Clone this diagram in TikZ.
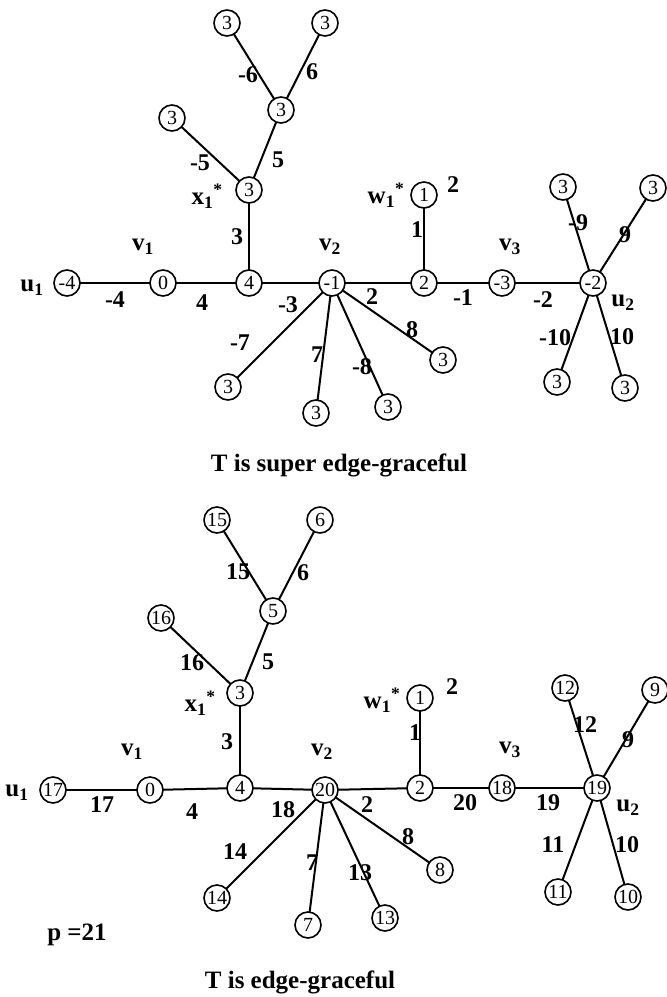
\documentclass[tikz,border=0pt]{standalone}
\usepackage{fontspec}
\setmainfont{Liberation Serif}

\tikzset{
    vtx/.style={draw, circle, line width=1.6pt, minimum size=26pt, inner sep=0pt,
        font=\fontsize{20}{20}\selectfont, fill=white},
    elab/.style={inner sep=0pt, font=\bfseries\fontsize{24}{24}\selectfont},
    vname/.style={inner sep=0pt, font=\bfseries\fontsize{25}{25}\selectfont},
    caption/.style={inner sep=0pt, font=\bfseries\fontsize{25}{25}\selectfont},
    edge/.style={line width=2pt}
}

\begin{document}
\begin{tikzpicture}[x=1pt, y=-1pt]
    % --- Page ---
    \useasboundingbox (0,0) rectangle (667,997);

    % ================= Upper tree: super edge-graceful =================
    % --- Edges (drawn first, circles are filled white) ---
    \foreach \n/\x/\y in {
        a-u1/67/283, a-v1/163/283, a-c/249/283, a-x/249/190,
        a-m/281/110, a-l1/227/23, a-l2/325/23, a-l3/172/118,
        a-v2/332/283, a-w0/424/283, a-w/424/195, a-v3/502/283,
        a-u2/593/283, a-p1/563/187, a-p2/653/188, a-p3/557/382,
        a-p4/625/388, a-s1/228/387, a-s2/316/413, a-s3/388/407,
        a-s4/443/360} {
        \coordinate (\n-o) at (\x,\y);
    }
    \foreach \p/\q in {a-u1/a-v1, a-v1/a-c, a-c/a-x, a-x/a-m, a-x/a-l3,
        a-m/a-l1, a-m/a-l2, a-c/a-v2, a-v2/a-w0, a-w0/a-w, a-w0/a-v3,
        a-v3/a-u2, a-u2/a-p1, a-u2/a-p2, a-u2/a-p3, a-u2/a-p4,
        a-v2/a-s1, a-v2/a-s2, a-v2/a-s3, a-v2/a-s4} {
        \draw[edge] (\p-o) -- (\q-o);
    }

    % --- Vertices ---
    \foreach \n/\t in {
        a-u1/-4, a-v1/0, a-c/4, a-x/3, a-m/3, a-l1/3, a-l2/3, a-l3/3,
        a-v2/-1, a-w0/2, a-w/1, a-v3/-3, a-u2/-2, a-p1/3, a-p2/3, a-p3/3,
        a-p4/3, a-s1/3, a-s2/3, a-s3/3, a-s4/3} {
        \node[vtx] (\n) at (\n-o) {\t};
    }

    % --- Edge labels ---
    \foreach \x/\y/\t [count=\i] in {
        115/300/-4, 202/303/4, 237/237/3, 200/163/-5, 278/160/5,
        248/75/-6, 312/72/6, 288/305/-3, 372/297/2, 417/230/1,
        463/298/-1, 543/300/-2, 578/223/-9, 625/235/9, 555/338/-10,
        622/337/10, 240/343/-7, 317/355/7, 362/367/-8, 412/330/8,
        453/185/2} {
        \node[elab] (a-e\i) at (\x,\y) {\t};
    }

    % --- Vertex names ---
    \node[vname] (a-nu1) at (32,288) {u\textsubscript{1}};
    \node[vname] (a-nv1) at (143,247) {v\textsubscript{1}};
    \node[vname] (a-nx1) at (207,196) {x\textsubscript{1}\textsuperscript{*}};
    \node[vname] (a-nv2) at (330,247) {v\textsubscript{2}};
    \node[vname] (a-nw1) at (386,195) {w\textsubscript{1}\textsuperscript{*}};
    \node[vname] (a-nv3) at (510,247) {v\textsubscript{3}};
    \node[vname] (a-nu2) at (623,303) {u\textsubscript{2}};

    \node[caption] (a-cap) at (339,465) {T is super edge-graceful};

    % ================= Lower tree: edge-graceful =================
    % --- Edges ---
    \foreach \n/\x/\y in {
        b-u1/53/790, b-v1/150/790, b-c/240/788, b-x/240/693,
        b-m/273/611, b-l1/217/520, b-l2/320/520, b-l3/161/618,
        b-v2/325/790, b-w0/420/788, b-w/420/698, b-v3/502/788,
        b-u2/597/788, b-p1/565/688, b-p2/655/690, b-p3/558/892,
        b-p4/628/897, b-s1/217/898, b-s2/308/925, b-s3/385/918,
        b-s4/440/870} {
        \coordinate (\n-o) at (\x,\y);
    }
    \foreach \p/\q in {b-u1/b-v1, b-v1/b-c, b-c/b-x, b-x/b-m, b-x/b-l3,
        b-m/b-l1, b-m/b-l2, b-c/b-v2, b-v2/b-w0, b-w0/b-w, b-w0/b-v3,
        b-v3/b-u2, b-u2/b-p1, b-u2/b-p2, b-u2/b-p3, b-u2/b-p4,
        b-v2/b-s1, b-v2/b-s2, b-v2/b-s3, b-v2/b-s4} {
        \draw[edge] (\p-o) -- (\q-o);
    }

    % --- Vertices ---
    \foreach \n/\t in {
        b-u1/17, b-v1/0, b-c/4, b-x/3, b-m/5, b-l1/15, b-l2/6, b-l3/16,
        b-v2/20, b-w0/2, b-w/1, b-v3/18, b-u2/19, b-p1/12, b-p2/9, b-p3/11,
        b-p4/10, b-s1/14, b-s2/7, b-s3/13, b-s4/8} {
        \node[vtx] (\n) at (\n-o) {\t};
    }

    % --- Edge labels ---
    \foreach \x/\y/\t [count=\i] in {
        102/805/17, 192/812/4, 283/810/18, 367/805/2, 465/803/20,
        548/803/19, 227/742/3, 415/733/1, 192/663/16, 268/662/5,
        238/572/15, 303/573/6, 585/725/12, 628/740/9, 553/845/11,
        627/845/10, 235/852/14, 312/863/7, 360/873/13, 408/837/8,
        452/687/2} {
        \node[elab] (b-e\i) at (\x,\y) {\t};
    }

    % --- Vertex names ---
    \node[vname] (b-nu1) at (17,793) {u\textsubscript{1}};
    \node[vname] (b-nv1) at (132,752) {v\textsubscript{1}};
    \node[vname] (b-nx1) at (200,703) {x\textsubscript{1}\textsuperscript{*}};
    \node[vname] (b-nv2) at (322,752) {v\textsubscript{2}};
    \node[vname] (b-nw1) at (382,700) {w\textsubscript{1}\textsuperscript{*}};
    \node[vname] (b-nv3) at (510,750) {v\textsubscript{3}};
    \node[vname] (b-nu2) at (628,808) {u\textsubscript{2}};

    \node[vname] (b-p) at (77,935) {p =21};
    \node[caption] (b-cap) at (300,982) {T is edge-graceful};
\end{tikzpicture}
\end{document}
